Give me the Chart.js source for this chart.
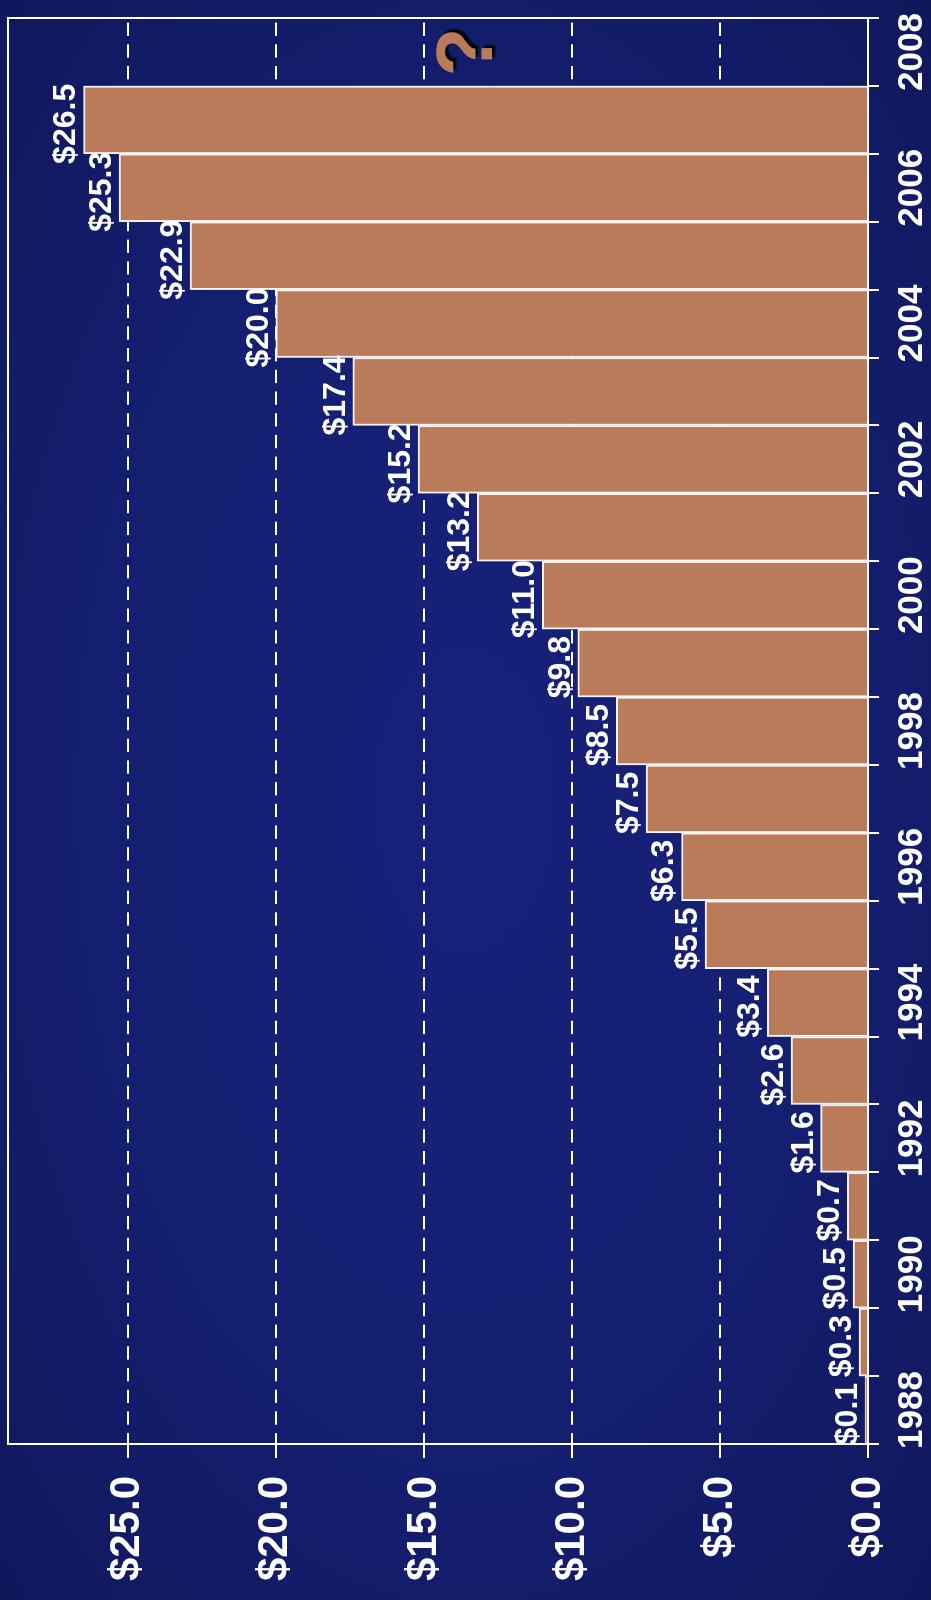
<!DOCTYPE html>
<html>
<head>
<meta charset="utf-8">
<script src="https://cdn.jsdelivr.net/npm/chart.js@4.4.1/dist/chart.umd.min.js"></script>
<style>
    html, body { margin: 0; padding: 0; }
    body {
        width: 931px;
        height: 1600px;
        overflow: hidden;
        background: radial-gradient(ellipse farthest-corner at 50% 50%, #17217b 0%, #151f71 55%, #10185c 100%);
    }
    /* the chart is laid out lying down and turned a quarter to the left */
    #deitado {
        position: absolute;
        left: 0;
        top: 0;
        width: 1600px;
        height: 931px;
        transform-origin: 0 0;
        transform: translateY(1600px) rotate(-90deg);
    }
</style>
</head>
<body>
<div id="deitado"><canvas id="grafico" width="1600" height="931"></canvas></div>
<script>
const YEARS = ['1988', '1989', '1990', '1991', '1992', '1993', '1994', '1995', '1996', '1997', '1998',
               '1999', '2000', '2001', '2002', '2003', '2004', '2005', '2006', '2007', '2008'];
const YEAR_TICKS = ['1988', '1990', '1992', '1994', '1996', '1998', '2000', '2002', '2004', '2006', '2008'];
const REVENUE = [0.1, 0.3, 0.5, 0.7, 1.6, 2.6, 3.4, 5.5, 6.3, 7.5, 8.5,
                 9.8, 11.0, 13.2, 15.2, 17.4, 20.0, 22.9, 25.3, 26.5, null];
const VALUE_TICKS = [0, 5, 10, 15, 20, 25];
const VALUE_MAX = 29.05;

// the year still to come gets a question mark instead of a bar
const UNKNOWN_YEAR = '2008';
const UNKNOWN_LEVEL = 12.7;

const BAR_COLOR = '#b97b59';
const FONT = '"Liberation Sans", Arial, Helvetica, sans-serif';

function money(v) {
    return '$' + Number(v).toFixed(1);
}

// keep the axes from reserving room for overhanging labels
function noPadding(axis) {
    axis.paddingTop = 0;
    axis.paddingBottom = 0;
    axis.paddingLeft = 0;
    axis.paddingRight = 0;
}

const barLabels = {
    id: 'barLabels',
    afterDatasetsDraw(chart) {
        const ctx = chart.ctx;
        const meta = chart.getDatasetMeta(0);
        const area = chart.chartArea;

        ctx.save();
        ctx.font = 'bold 32px ' + FONT;
        ctx.fillStyle = '#ffffff';
        ctx.textAlign = 'center';
        ctx.textBaseline = 'alphabetic';
        meta.data.forEach((bar, i) => {
            if (REVENUE[i] === null) return;
            ctx.fillText(money(REVENUE[i]), bar.x - 4, bar.y - 8);
        });

        // question mark with a hard drop shadow
        const x = chart.scales.x.getPixelForValue(YEARS.indexOf(UNKNOWN_YEAR));
        const y = chart.scales.y.getPixelForValue(UNKNOWN_LEVEL);
        ctx.font = 'bold 80px ' + FONT;
        ctx.shadowColor = 'rgba(0, 0, 0, 0.95)';
        ctx.shadowOffsetX = 3;
        ctx.shadowOffsetY = 3;
        ctx.shadowBlur = 2;
        ctx.fillStyle = BAR_COLOR;
        ctx.fillText('?', x, y);
        ctx.restore();

        // frame round the plot
        ctx.save();
        ctx.strokeStyle = '#ffffff';
        ctx.lineWidth = 2;
        ctx.strokeRect(area.left, area.top, area.right - area.left, area.bottom - area.top);
        ctx.restore();
    }
};

function renderGrafico() {
    const ctx = document.getElementById('grafico');

    new Chart(ctx, {
        type: 'bar',
        data: {
            labels: YEARS,
            datasets: [{
                data: REVENUE,
                backgroundColor: BAR_COLOR,
                borderColor: '#f4f4f4',
                borderWidth: 2,
                barPercentage: 1,
                categoryPercentage: 1
            }]
        },
        options: {
            responsive: false,
            animation: false,
            devicePixelRatio: 1,
            layout: { padding: { top: 8, right: 18, left: 0, bottom: 0 } },
            plugins: {
                legend: { display: false },
                tooltip: { enabled: false }
            },
            scales: {
                x: {
                    afterFit: axis => { axis.height = 63; noPadding(axis); },
                    grid: {
                        offset: true,
                        drawOnChartArea: false,
                        drawTicks: true,
                        tickLength: 11,
                        color: '#ffffff',
                        lineWidth: 2
                    },
                    border: { display: false },
                    ticks: {
                        autoSkip: false,
                        maxRotation: 0,
                        minRotation: 0,
                        padding: 12,
                        color: '#ffffff',
                        font: { family: FONT, size: 35, weight: 'bold' },
                        callback: (v, i) => YEAR_TICKS.includes(YEARS[i]) ? YEARS[i] : ''
                    }
                },
                y: {
                    min: 0,
                    max: VALUE_MAX,
                    afterFit: axis => { axis.width = 156; noPadding(axis); },
                    afterBuildTicks: axis => {
                        axis.ticks = VALUE_TICKS.map(v => ({ value: v }));
                    },
                    grid: {
                        drawTicks: true,
                        tickLength: 14,
                        color: '#ffffff',
                        lineWidth: 2,
                        tickColor: '#ffffff',
                        tickWidth: 2,
                        tickBorderDash: []
                    },
                    border: { display: false, dash: [13.3, 8.4], dashOffset: 2.4 },
                    ticks: {
                        padding: 18,
                        color: '#ffffff',
                        font: { family: FONT, size: 42, weight: 'bold' },
                        callback: v => money(v)
                    }
                }
            }
        },
        plugins: [barLabels]
    });
}

renderGrafico();
</script>
</body>
</html>
